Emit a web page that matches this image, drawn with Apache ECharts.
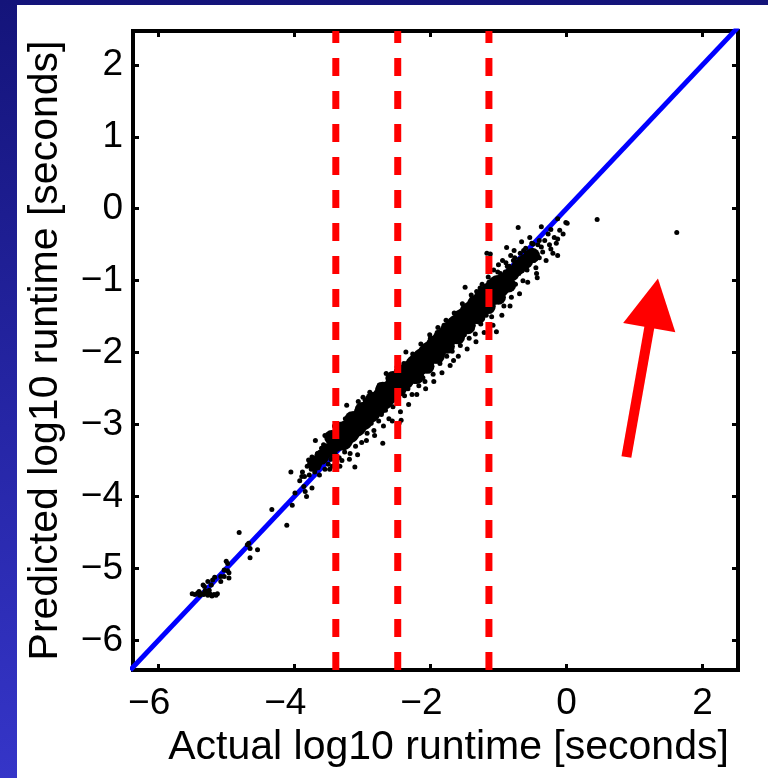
<!DOCTYPE html>
<html><head><meta charset="utf-8">
<script src="https://cdn.jsdelivr.net/npm/echarts@6/dist/echarts.min.js"></script>
<style>
html,body{margin:0;padding:0;width:768px;height:778px;overflow:hidden;background:linear-gradient(to bottom,#14147a 0%,#2626a6 55%,#3535c8 100%);}
#chart{position:absolute;left:17px;top:5px;width:751px;height:773px;background:#ffffff;}
</style></head><body><div id="chart"></div>
<script>
// ---- data ----
const xMin = -6.37, xMax = 2.52;
const yMin = -6.41, yMax = 2.47;
const xTicks = [-6, -4, -2, 0, 2];
const yTicks = [-6, -5, -4, -3, -2, -1, 0, 1, 2];
const thresholds = [-3.39, -2.48, -1.14];
const diagonal = [[-6.41, -6.41], [2.52, 2.52]];
const xTitle = 'Actual log10 runtime [seconds]';
const yTitle = 'Predicted log10 runtime [seconds]';

// dense core of the cloud
const coreMain = [
  [-3.3,-3.20],[-3.2,-3.10],[-3.1,-3.01],[-3.0,-2.92],[-2.9,-2.82],[-2.8,-2.73],
  [-2.7,-2.64],[-2.6,-2.55],[-2.5,-2.46],[-2.4,-2.36],[-2.3,-2.27],[-2.2,-2.18],
  [-2.1,-2.09],[-2.0,-2.00],[-1.9,-1.91],[-1.8,-1.82],[-1.7,-1.72],[-1.6,-1.63],
  [-1.5,-1.54],[-1.4,-1.45],[-1.3,-1.35],[-1.2,-1.26],[-1.1,-1.17],[-1.0,-1.08]
];
const coreEnds = [
  [-3.7,-3.54],[-3.6,-3.45],[-3.5,-3.36],[-3.4,-3.28],
  [-0.9,-0.99],[-0.8,-0.90],[-0.7,-0.81],[-0.6,-0.73],[-0.5,-0.65]
];
const coreSide = [
  [-3.45,-3.18],[-3.3,-3.06],[-3.15,-2.92],[-3.0,-2.79],[-2.85,-2.65],[-2.7,-2.51],[-2.55,-2.36],
  [-2.2,-2.33],[-2.05,-2.19],[-1.9,-2.05],[-1.75,-1.91],[-1.6,-1.78],[-1.45,-1.64],[-1.3,-1.50],
  [-1.15,-1.36],[-1.0,-1.23],[-0.85,-1.06]
];
// individual points around the core
const cloud = [
  [-3.92,-3.78],[-3.88,-3.66],[-3.85,-3.72],[-3.81,-3.58],[-3.79,-3.49],[-3.78,-3.70],[-3.75,-3.62],[-3.74,-3.45],
  [-3.72,-3.55],[-3.70,-3.66],[-3.69,-3.22],[-3.68,-3.50],[-3.66,-3.40],[-3.65,-3.60],[-3.63,-3.70],
  [-3.60,-3.33],[-3.58,-3.52],[-3.57,-3.28],[-3.55,-3.62],[-3.53,-3.45],[-3.51,-3.18],[-3.50,-3.55],[-3.48,-3.30],
  [-3.46,-3.48],[-3.45,-3.19],[-3.44,-3.58],[-3.42,-3.12],[-3.40,-3.40],[-3.38,-3.55],[-3.37,-3.05],[-3.35,-3.32],
  [-3.34,-3.46],[-3.32,-3.00],[-3.31,-3.22],[-3.30,-3.50],
  [-3.28,-3.10],[-3.26,-3.38],[-3.25,-2.92],[-3.23,-2.73],[-3.22,-3.25],[-3.20,-3.02],[-3.18,-3.40],[-3.16,-2.88],
  [-3.14,-3.15],[-3.12,-2.98],[-3.11,-3.59],[-3.10,-3.30],[-3.08,-2.80],[-3.06,-2.68],[-3.05,-3.12],[-3.03,-2.92],
  [-3.01,-3.25],[-3.00,-2.75],
  [-2.98,-3.05],[-2.96,-2.66],[-2.95,-2.90],[-2.93,-3.12],[-2.91,-2.72],[-2.89,-2.55],[-2.87,-2.98],[-2.85,-2.80],
  [-2.83,-3.08],[-2.81,-2.62],[-2.79,-2.88],[-2.77,-2.50],[-2.76,-2.95],[-2.74,-2.70],[-2.72,-2.86],[-2.70,-3.26],[-2.70,-2.48],
  [-2.68,-2.62],[-2.66,-2.80],[-2.65,-2.29],[-2.63,-2.55],[-2.61,-2.92],[-2.59,-2.42],[-2.57,-2.68],[-2.55,-2.75],
  [-2.53,-2.35],[-2.51,-2.58],[-2.49,-2.20],[-2.47,-2.66],[-2.46,-2.98],[-2.45,-2.40],[-2.43,-2.94],[-2.42,-2.52],[-2.40,-2.25],
  [-2.38,-2.60],[-2.36,-1.99],[-2.35,-2.38],[-2.33,-2.50],[-2.31,-2.12],[-2.29,-2.30],[-2.27,-2.58],[-2.25,-2.20],
  [-2.23,-2.40],[-2.21,-2.05],[-2.19,-2.28],[-2.17,-2.46],[-2.15,-2.10],[-2.13,-1.95],[-2.11,-2.35],[-2.10,-2.18],
  [-2.08,-2.40],[-2.06,-1.92],[-2.04,-2.08],[-2.02,-2.25],[-2.00,-1.80],[-1.98,-2.02],[-1.96,-2.30],[-1.94,-1.88],
  [-1.92,-2.12],[-1.90,-1.72],[-1.88,-1.95],[-1.86,-2.15],[-1.84,-1.80],[-1.82,-2.02],[-1.80,-1.62],
  [-1.78,-1.90],[-1.76,-2.05],[-1.74,-1.70],[-1.72,-1.85],[-1.70,-1.55],[-1.68,-1.98],[-1.66,-2.11],[-1.64,-1.62],
  [-1.62,-1.80],[-1.60,-1.45],[-1.58,-1.70],[-1.56,-1.90],[-1.54,-1.52],[-1.52,-1.38],[-1.50,-1.75],
  [-1.49,-1.09],[-1.47,-1.60],[-1.45,-1.35],[-1.43,-1.80],[-1.41,-1.48],[-1.39,-1.25],[-1.37,-1.62],[-1.35,-1.40],
  [-1.34,-1.74],[-1.32,-1.15],[-1.30,-1.50],[-1.28,-1.30],[-1.26,-1.60],[-1.24,-1.05],[-1.22,-1.40],[-1.20,-1.20],
  [-1.18,-1.48],[-1.17,-0.62],[-1.15,-0.95],[-1.13,-1.30],[-1.12,-0.63],[-1.10,-1.50],[-1.09,-1.10],[-1.07,-0.85],
  [-1.05,-1.30],[-1.03,-1.71],[-1.02,-0.98],[-1.00,-0.78],[-0.98,-1.20],[-0.96,-1.02],[-0.94,-0.72],[-0.92,-1.35],[-0.90,-0.88],
  [-0.88,-0.54],[-0.86,-1.10],[-0.84,-0.80],[-0.82,-0.65],[-0.81,-1.23],[-0.79,-0.95],[-0.77,-0.58],[-0.75,-1.05],
  [-0.73,-0.75],[-0.71,-0.26],[-0.70,-0.90],[-0.68,-0.62],[-0.66,-0.46],[-0.64,-1.00],[-0.62,-0.72],
  [-0.60,-0.55],[-0.58,-0.85],[-0.56,-0.64],[-0.54,-0.40],[-0.52,-0.72],[-0.50,-0.58],[-0.47,-0.63],[-0.45,-0.82],
  [-0.43,-0.96],[-0.42,-0.50],[-0.40,-0.68],[-0.37,-0.25],[-0.37,-0.53],[-0.35,-0.60],[-0.32,-0.44],[-0.30,-0.72],
  [-0.27,-0.35],[-0.25,-0.50],[-0.23,-0.29],[-0.23,-0.56],[-0.20,-0.62],[-0.18,-0.40],[-0.15,-0.48],[-0.13,-0.14],
  [-0.13,-0.42],[-0.13,-0.65],[-0.10,-0.30],[-0.05,-0.35],[0.01,-0.20],[-0.01,-0.19],
  [-3.20,-3.18],[-3.05,-2.99],[-2.92,-2.90],[-2.78,-2.79],[-2.64,-2.68],[-2.52,-2.50],[-2.37,-2.42],[-2.24,-2.30],
  [-2.12,-2.14],[-1.99,-2.08],[-1.87,-1.86],[-1.75,-1.80],[-1.63,-1.72],[-1.51,-1.62],[-1.38,-1.53],[-1.27,-1.41],
  [-1.16,-1.33],[-1.04,-1.19],[-0.95,-1.12],[-0.85,-0.95],[-0.76,-0.88],[-0.66,-0.80],[-0.57,-0.70],[-0.48,-0.72],
  [-3.15,-2.95],[-2.99,-2.82],[-2.86,-2.70],[-2.71,-2.55],[-2.58,-2.40],[-2.44,-2.28],[-2.30,-2.17],[-2.16,-2.02],
  [-2.03,-1.89],[-1.91,-1.79],[-1.77,-1.65],[-1.65,-1.52],[-1.53,-1.41],[-1.40,-1.31],[-1.29,-1.19],[-1.19,-1.08],
  [-1.06,-0.99],[-0.97,-0.90],[-0.87,-0.80],[-0.78,-0.72],[-0.69,-0.70],[-0.59,-0.62],[-0.49,-0.49],[-0.40,-0.44],
  [-3.55,-3.15],[-3.48,-3.62],[-3.41,-3.02],[-3.33,-3.58],[-3.27,-2.98],[-3.19,-3.48],[-3.13,-2.85],[-3.07,-3.42],
  [-2.99,-2.62],[-2.94,-3.22],[-2.88,-2.60],[-2.82,-3.15],[-2.75,-2.45],[-2.69,-3.02],[-2.62,-2.35],[-2.56,-2.95],
  [-2.50,-2.25],[-2.44,-2.82],[-2.39,-2.15],[-2.32,-2.72],[-2.26,-2.02],[-2.20,-2.58],[-2.14,-1.88],[-2.07,-2.50],
  [-2.01,-1.75],[-1.95,-2.40],[-1.89,-1.65],[-1.83,-2.28],[-1.77,-1.55],[-1.71,-2.18],[-1.65,-1.45],[-1.59,-2.05],
  [-1.53,-1.32],[-1.46,-1.95],[-1.40,-1.20],[-1.33,-1.85],[-1.27,-1.10],[-1.21,-1.72],[-1.14,-1.02],[-1.08,-1.62],
  [-1.01,-0.88],[-0.95,-1.48],[-0.89,-0.75],[-0.83,-1.35],[-0.76,-0.68],[-0.69,-1.18],[-0.63,-0.58],[-0.57,-1.02],
  [-0.51,-0.48],[-0.44,-0.90]
];
// sparse lower tail
const tail = [
  [-3.99,-3.95],[-4.03,-4.12],[-4.05,-3.66],[-3.86,-3.86],[-3.84,-3.93],[-3.82,-4.00],[-3.74,-3.88],[-3.89,-3.72],
  [-4.11,-4.40],[-4.33,-4.18],[-4.54,-4.74],[-4.65,-4.72],[-4.65,-4.85],[-4.67,-4.65],[-4.81,-4.50],[-4.69,-4.67],
  [-4.98,-4.93],[-5.00,-4.90],[-4.96,-5.06],[-4.98,-5.03],[-5.03,-5.02],[-5.03,-5.11],[-4.96,-5.13],[-5.08,-5.11],
  [-5.08,-5.18],[-5.17,-5.12],[-5.20,-5.16],[-5.22,-5.23],[-5.27,-5.18],[-5.27,-5.32],[-5.32,-5.25],[-5.34,-5.23],
  [-5.50,-5.35],[-5.46,-5.36],[-5.42,-5.34],[-5.39,-5.37],[-5.36,-5.35],[-5.33,-5.36],[-5.30,-5.34],[-5.27,-5.37],
  [-5.24,-5.35],[-5.21,-5.38],[-5.18,-5.36],[-5.15,-5.37],[-5.13,-5.35],[-5.40,-5.32],[-5.31,-5.31],[-5.25,-5.30]
];
const outliers = [[0.45, -0.15], [1.62, -0.33]];
const arrowFrom = [0.88, -3.45];
const arrowTo = [1.28, -1.31];

// ---- chart ----
const FONT = '"Liberation Sans", Arial, Helvetica, sans-serif';
const fmtY = v => (v < 0 ? '\u2212' + Math.abs(v) : String(v));
const fmtX = v => (v < 0 ? '{neg|\u2212' + Math.abs(v) + '}' : '{pos|' + v + '}');
const chart = echarts.init(document.getElementById('chart'), null, {renderer: 'canvas'});

function mkAxis(pos, ticks, withLabels, name, isY, mn, mx) {
  const lbl = {show: withLabels, customValues: ticks, color: '#000',
      fontFamily: FONT, fontSize: 37, margin: isY ? 10 : 15};
  if (isY) { lbl.formatter = fmtY; }
  else {
    lbl.formatter = fmtX;
    lbl.rich = {
      neg: {fontFamily: FONT, fontSize: 37, color: '#000', padding: [0, 18, 0, 0]},
      pos: {fontFamily: FONT, fontSize: 37, color: '#000'}
    };
  }
  const a = {
    type: 'value', position: pos, min: mn, max: mx,
    splitLine: {show: false},
    axisLine: {show: false, onZero: false},
    axisTick: {show: true, inside: true, length: 6, customValues: ticks, lineStyle: {color: '#000', width: 3}},
    axisLabel: lbl
  };
  if (name) {
    a.name = name; a.nameLocation = 'middle';
    a.nameGap = isY ? 67 : 55;
    a.nameTextStyle = {fontFamily: FONT, fontSize: 41, color: '#000', padding: isY ? [0,0,0,0] : [0,0,0,26]};
  }
  return a;
}

const thresholdSeries = thresholds.map(t => ({
  type: 'line', data: [[t, yMin], [t, yMax]], symbol: 'none', silent: true, z: 5,
  lineStyle: {color: '#ff0000', width: 7, type: [18, 15]}
}));

const dotStyle = {color: '#000', opacity: 1};
const option = {
  animation: false,
  grid: {left: 111, top: 26, width: 610, height: 639, show: true, borderColor: '#000', borderWidth: 4, backgroundColor: 'transparent'},
  xAxis: [mkAxis('bottom', xTicks, true, xTitle, false, xMin, xMax), mkAxis('top', xTicks, false, null, false, xMin, xMax)],
  yAxis: [mkAxis('left', yTicks, true, yTitle, true, yMin, yMax), mkAxis('right', yTicks, false, null, true, yMin, yMax)],
  series: [
    {type: 'line', data: diagonal, symbol: 'none', silent: true, z: 2, clip: true,
     lineStyle: {color: '#0000ff', width: 5}},
    {type: 'scatter', data: coreMain, symbol: 'circle', symbolSize: 23, silent: true, z: 3, itemStyle: dotStyle},
    {type: 'scatter', data: coreEnds, symbol: 'circle', symbolSize: 15, silent: true, z: 3, itemStyle: dotStyle},
    {type: 'scatter', data: coreSide, symbol: 'circle', symbolSize: 15, silent: true, z: 3, itemStyle: dotStyle},
    {type: 'scatter', data: cloud.concat(tail).concat(outliers), symbol: 'circle', symbolSize: 5, silent: true, z: 3,
     itemStyle: dotStyle},
    ...thresholdSeries,
    {type: 'line', data: [], silent: true, z: 6,
     markLine: {silent: true, symbol: ['none', 'triangle'], symbolSize: [53, 50], animation: false,
       label: {show: false}, lineStyle: {color: '#ff0000', width: 10, type: 'solid', cap: 'butt', opacity: 1},
       emphasis: {disabled: true},
       data: [[{coord: arrowFrom}, {coord: arrowTo}]]}}
  ]
};
chart.setOption(option);
</script></body></html>
